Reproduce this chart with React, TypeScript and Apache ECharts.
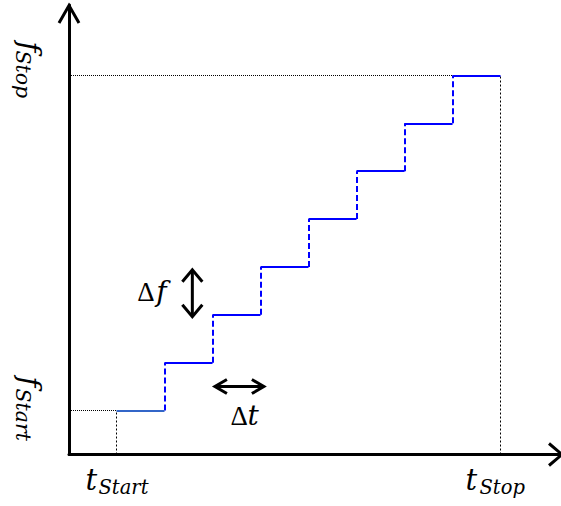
import React, { useEffect, useRef } from 'react';
import * as echarts from 'echarts';

// Step boundaries in time (t) and frequency levels (f)
const tBounds = [1, 2, 3, 4, 5, 6, 7, 8, 9];
const fLevels = [1, 2, 3, 4, 5, 6, 7, 8];
// Axis label subscripts
const tSubs = ['Start', 'Stop'];
const fSubs = ['Start', 'Stop'];
// Annotation arrows (data coords)
const dfArrowT = 2.58;
const dfArrowF = [2.96, 3.94];
const dtArrowF = 1.5;
const dtArrowT = [3.05, 4.07];

const X_MIN = 0.0104;
const X_MAX = 10.2604;
const Y_MIN = 0.0806;
const Y_MAX = 9.4731;

const SERIF = 'DejaVu Serif';
const C = 0.346; // central-baseline offset factor

function txt(x: number, baseline: number, text: string, fontSize: number, family: string, italic: boolean) {
  return {
    type: 'text',
    x,
    y: baseline - C * fontSize,
    z: 100,
    style: {
      text,
      fontSize,
      fontFamily: family,
      fontStyle: italic ? 'italic' : 'normal',
      fill: '#000',
      align: 'left',
      verticalAlign: 'middle',
    },
  };
}

function poly(points: number[][], width = 3) {
  return {
    type: 'polyline',
    z: 100,
    shape: { points },
    style: { stroke: '#000', lineWidth: width, fill: null, lineJoin: 'miter' },
  };
}

function seg(x1: number, y1: number, x2: number, y2: number, width = 3) {
  return {
    type: 'line',
    z: 100,
    shape: { x1, y1, x2, y2 },
    style: { stroke: '#000', lineWidth: width },
  };
}

export default function App() {
  const ref = useRef<HTMLDivElement>(null);
  useEffect(() => {
    document.body.style.margin = '0';
    const chart = echarts.init(ref.current!, null, { renderer: 'svg' });

    const horiz: any[] = [];
    for (let k = 0; k < fLevels.length; k++) {
      horiz.push({
        coords: [
          [tBounds[k], fLevels[k]],
          [tBounds[k + 1], fLevels[k]],
        ],
        lineStyle: { color: k === 0 ? '#3366c8' : '#0000ff' },
      });
    }
    const vert: any[] = [];
    for (let k = 0; k < fLevels.length - 1; k++) {
      vert.push({
        coords: [
          [tBounds[k + 1], fLevels[k]],
          [tBounds[k + 1], fLevels[k + 1]],
        ],
      });
    }
    const nT = tBounds.length - 1;
    const nF = fLevels.length - 1;
    const guidesH = [
      { coords: [[X_MIN, fLevels[0]], [tBounds[0], fLevels[0]]] },
      { coords: [[X_MIN, fLevels[nF]], [tBounds[nT - 1], fLevels[nF]]] },
    ];
    const guidesV = [
      { coords: [[tBounds[0], Y_MIN], [tBounds[0], fLevels[0]]] },
      { coords: [[tBounds[nT], Y_MIN], [tBounds[nT], fLevels[nF]]] },
    ];

    const axisCommon = {
      type: 'value',
      axisLine: { show: true, onZero: false, lineStyle: { color: '#000', width: 3 } },
      axisTick: { show: false },
      axisLabel: { show: false },
      splitLine: { show: false },
    };

    chart.setOption({
      animation: false,
      backgroundColor: '#fff',
      grid: { left: 69, right: 0, top: 5, bottom: 51.5 },
      xAxis: { ...axisCommon, min: X_MIN, max: X_MAX },
      yAxis: { ...axisCommon, min: Y_MIN, max: Y_MAX },
      series: [
        {
          type: 'lines',
          coordinateSystem: 'cartesian2d',
          silent: true,
          z: 1,
          lineStyle: { color: '#000', width: 1, type: [1, 1], opacity: 1 },
          data: guidesH,
        },
        {
          type: 'lines',
          coordinateSystem: 'cartesian2d',
          silent: true,
          z: 1,
          lineStyle: { color: '#000', width: 1, type: [2, 2], opacity: 1 },
          data: guidesV,
        },
        {
          type: 'lines',
          coordinateSystem: 'cartesian2d',
          silent: true,
          z: 2,
          lineStyle: { color: '#0000ff', width: 2, type: [6, 3], opacity: 1 },
          data: vert,
        },
        {
          type: 'lines',
          coordinateSystem: 'cartesian2d',
          silent: true,
          z: 3,
          lineStyle: { color: '#0000ff', width: 2, type: 'solid', opacity: 1 },
          data: horiz,
        },
      ],
    });

    const px = (t: number, f: number) => chart.convertToPixel({ gridIndex: 0 }, [t, f]) as number[];
    const origin = px(X_MIN, Y_MIN);
    const top = px(X_MIN, Y_MAX);
    const right = px(X_MAX, Y_MIN);

    const g: any[] = [];
    // axis arrow heads
    g.push(poly([[origin[0] - 10, top[1] + 18], [origin[0], top[1] + 0.5], [origin[0] + 10, top[1] + 18]]));
    g.push(poly([[right[0] - 12, origin[1] - 11], [right[0] + 1, origin[1]], [right[0] - 12, origin[1] + 11]]));

    // Δf vertical double arrow
    const a1 = px(dfArrowT, dfArrowF[1]);
    const a2 = px(dfArrowT, dfArrowF[0]);
    g.push(seg(a1[0], a1[1] + 1, a2[0], a2[1] - 1));
    g.push(poly([[a1[0] - 10, a1[1] + 12], [a1[0], a1[1]], [a1[0] + 10, a1[1] + 12]]));
    g.push(poly([[a2[0] - 10, a2[1] - 12], [a2[0], a2[1]], [a2[0] + 10, a2[1] - 12]]));
    const amx = a1[0];
    const amy = (a1[1] + a2[1]) / 2;
    g.push(txt(amx - 55, amy + 8, 'Δ', 27, 'Liberation Serif', false));
    g.push(txt(amx - 36, amy + 8, 'f', 28, SERIF, true));

    // Δt horizontal double arrow
    const b1 = px(dtArrowT[0], dtArrowF);
    const b2 = px(dtArrowT[1], dtArrowF);
    g.push(seg(b1[0] + 1, b1[1], b2[0] - 1, b2[1]));
    g.push(poly([[b1[0] + 12, b1[1] - 7], [b1[0], b1[1]], [b1[0] + 12, b1[1] + 7]]));
    g.push(poly([[b2[0] - 12, b2[1] - 7], [b2[0], b2[1]], [b2[0] - 12, b2[1] + 7]]));
    const bmx = (b1[0] + b2[0]) / 2;
    const bmy = b1[1];
    g.push(txt(bmx - 9, bmy + 39, 'Δ', 27, 'Liberation Serif', false));
    g.push(txt(bmx + 8, bmy + 39, 't', 28, SERIF, true));

    // t labels
    const tAnchors = [tBounds[0], tBounds[nT]];
    const tOff = [[-31, -18], [-35, -21]];
    tAnchors.forEach((t, i) => {
      const p = px(t, Y_MIN);
      g.push(txt(p[0] + tOff[i][0], p[1] + 35.5, 't', 29, SERIF, true));
      g.push(txt(p[0] + tOff[i][1], p[1] + 39.5, tSubs[i], 19.5, SERIF, true));
    });

    // f labels (rotated, reading top to bottom)
    const fAnchors = [fLevels[0], fLevels[nF]];
    const fOff = [[-34, -22], [-34, -25]];
    fAnchors.forEach((f, i) => {
      const p = px(X_MIN, f);
      g.push({
        type: 'group',
        x: 20,
        y: p[1],
        rotation: -Math.PI / 2,
        children: [
          {
            type: 'text',
            x: fOff[i][0],
            y: -C * 29,
            style: { text: 'f', fontSize: 29, fontFamily: SERIF, fontStyle: 'italic', fill: '#000', align: 'left', verticalAlign: 'middle' },
          },
          {
            type: 'text',
            x: fOff[i][1],
            y: 4.5 - C * 20.5,
            style: { text: fSubs[i], fontSize: 20.5, fontFamily: SERIF, fontStyle: 'italic', fill: '#000', align: 'left', verticalAlign: 'middle' },
          },
        ],
      });
    });

    chart.setOption({ graphic: g });
    return () => chart.dispose();
  }, []);
  return <div ref={ref} style={{ position: 'fixed', left: 0, top: 0, width: 561, height: 506 }} />;
}
